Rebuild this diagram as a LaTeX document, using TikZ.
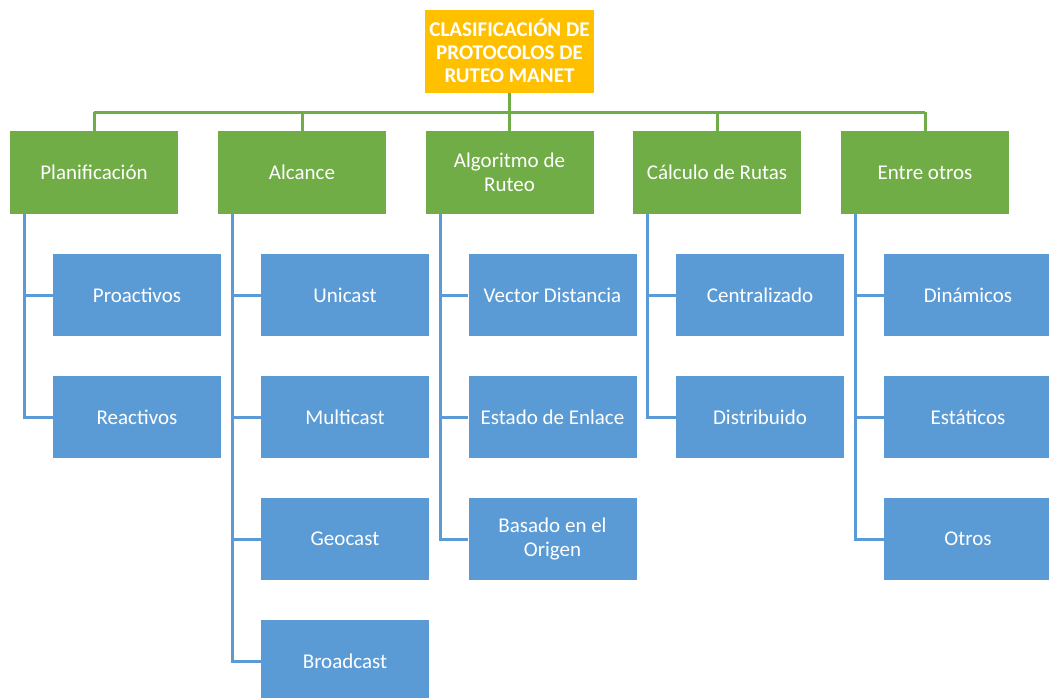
\documentclass[tikz,border=0pt]{standalone}
\usepackage{fontspec}
\setmainfont{Carlito}
\definecolor{rootcol}{HTML}{FFC000}
\definecolor{catcol}{HTML}{70AD47}
\definecolor{leafcol}{HTML}{5B9BD5}
\begin{document}
\begin{tikzpicture}[x=1pt,y=-1pt,
  box/.style={rectangle, inner sep=2pt, minimum width=168pt, minimum height=83pt,
    text=white, align=center, font=\fontsize{21}{24}\selectfont},
  rootbox/.style={box, fill=rootcol, minimum width=169pt, font=\fontsize{21}{23}\selectfont\bfseries},
  catbox/.style={box, fill=catcol},
  leafbox/.style={box, fill=leafcol, minimum height=82pt},
  greenline/.style={draw=catcol, line width=3pt},
  blueline/.style={draw=leafcol, line width=3pt}]
\useasboundingbox (0,0) rectangle (1049,697);

% root
\node[rootbox] (root) at (509.5,51) {CLASIFICACIÓN DE\\PROTOCOLOS DE\\RUTEO MANET};

% categories
\node[catbox] (g1) at (94,172.5)  {Planificación};
\node[catbox] (g2) at (302,172.5) {Alcance};
\node[catbox] (g3) at (509.5,172.5) {Algoritmo de\\Ruteo};
\node[catbox] (g4) at (717,172.5) {Cálculo de Rutas};
\node[catbox] (g5) at (925,172.5) {Entre otros};

% leaves
\node[leafbox] (p1) at (137,295) {Proactivos};
\node[leafbox] (p2) at (137,417) {Reactivos};

\node[leafbox] (a1) at (345,295) {Unicast};
\node[leafbox] (a2) at (345,417) {Multicast};
\node[leafbox] (a3) at (345,539) {Geocast};
\node[leafbox] (a4) at (345,661) {Broadcast};

\node[leafbox] (r1) at (552.5,295) {Vector Distancia};
\node[leafbox] (r2) at (552.5,417) {Estado de Enlace};
\node[leafbox] (r3) at (552.5,539) {Basado en el\\Origen};

\node[leafbox] (c1) at (760,295) {Centralizado};
\node[leafbox] (c2) at (760,417) {Distribuido};

\node[leafbox] (e1) at (968,295) {Dinámicos};
\node[leafbox] (e2) at (968,417) {Estáticos};
\node[leafbox] (e3) at (968,539) {Otros};

% root-to-category bus
\coordinate (bus) at (509.5,112);
\draw[greenline] (root.south) -- (root.south |- bus);
\draw[greenline] (g1.north |- bus) -- (g5.north |- bus);
\foreach \g in {g1,g2,g3,g4,g5}
  \draw[greenline] (\g.north |- bus) -- (\g.north);

% category-to-leaf elbows
\foreach \g/\leaves in {g1/{p1,p2}, g2/{a1,a2,a3,a4}, g3/{r1,r2,r3}, g4/{c1,c2}, g5/{e1,e2,e3}}
  \foreach \l in \leaves
    \draw[blueline] ([xshift=15pt]\g.south west) |- (\l.west);
\end{tikzpicture}
\end{document}
